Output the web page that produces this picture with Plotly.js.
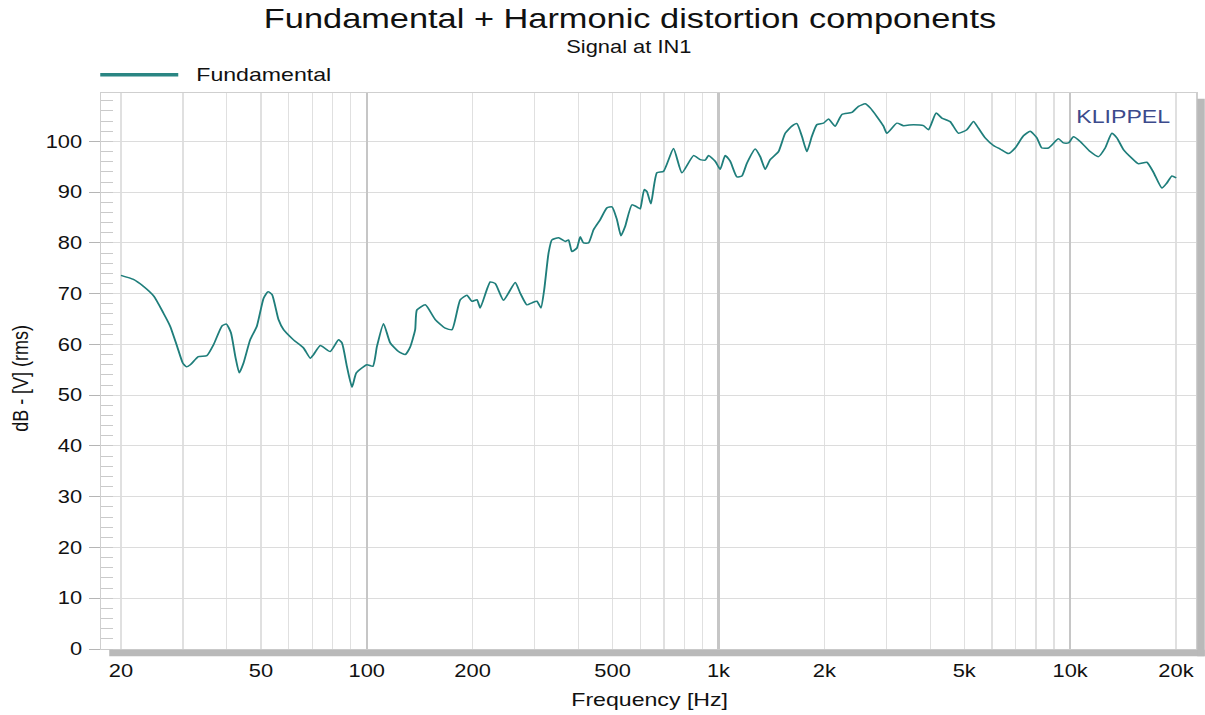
<!DOCTYPE html>
<html>
<head>
<meta charset="utf-8">
<script src="https://cdn.plot.ly/plotly-3.0.1.min.js"></script>
<style>
html,body{margin:0;padding:0;overflow:hidden;background:#ffffff;}
#chart{width:964px;height:715px;transform:scaleX(1.25);transform-origin:0 0;}
</style>
</head>
<body>
<div id="chart"></div>
<script>
// ---- data ----
const freqHz = [20.0,21.7,23.2,24.8,26.4,27.6,28.9,30.0,30.7,31.5,33.2,35.1,36.7,38.8,39.9,41.1,42.3,43.4,44.6,46.6,48.7,50.9,52.4,53.8,56.1,58.0,61.9,66.1,69.1,70.6,73.8,78.7,83.1,85.0,87.8,90.8,93.4,100.1,104.1,106.9,111.6,116.6,123.1,128.6,132.9,137.3,138.9,146.7,156.6,167.2,174.7,184.4,192.7,199.1,205.8,210.2,224.4,231.9,244.9,264.4,273.2,285.4,294.9,304.7,312.8,319.6,328.8,336.2,351.1,366.8,374.8,383.2,396.0,404.6,413.4,427.2,441.5,461.3,481.9,498.0,514.5,528.2,543.2,567.6,592.7,599.3,615.2,626.2,642.7,668.5,698.0,745.3,787.4,849.5,887.7,917.3,937.3,979.1,1011.7,1045.3,1080.1,1128.6,1166.2,1205.0,1272.2,1314.6,1358.3,1403.6,1482.0,1548.4,1617.9,1671.7,1727.3,1784.9,1844.2,1905.6,1989.8,2056.0,2148.2,2244.5,2396.3,2502.1,2614.3,2701.3,2822.4,2947.1,3013.4,3217.3,3359.4,3586.6,3829.3,3956.6,4160.2,4318.4,4560.3,4815.0,5087.2,5312.0,5488.7,5734.8,6055.1,6326.6,6680.0,6979.5,7369.3,7700.0,8045.4,8313.1,8680.4,9267.5,9575.9,9894.0,10223,10682,11403,12039,12580,13144,13582,14182,14985,15647,16532,17262,18238,18845,19473,20026];
const fundamentalDb = [73.6,72.8,71.4,69.5,66.2,63.6,59.6,56.3,55.6,56.0,57.6,57.8,60.0,63.7,64.0,62.3,57.6,54.4,56.3,60.9,63.6,69.1,70.4,69.8,64.9,62.9,60.9,59.3,57.3,58.0,59.8,58.6,60.9,60.3,55.7,51.6,54.4,56.0,55.7,59.6,64.1,60.3,58.6,58.0,59.5,62.9,66.8,67.8,64.9,63.2,62.9,68.8,69.7,68.5,68.8,67.2,72.3,72.0,68.7,72.2,70.1,67.8,68.2,68.5,67.2,70.8,78.0,80.6,81.0,80.3,80.6,78.3,79.0,81.2,80.0,80.0,82.6,84.6,86.9,87.1,84.6,81.4,83.3,87.5,86.9,86.7,90.5,90.1,87.7,93.8,94.1,98.6,93.8,97.2,96.4,96.3,97.2,96.1,94.5,97.2,96.1,93.0,93.2,95.7,98.5,97.0,94.5,96.4,98.0,101.6,103.0,103.5,101.0,98.0,101.0,103.3,103.6,104.4,103.0,105.3,105.7,106.9,107.4,106.6,104.9,103.0,101.6,103.6,103.1,103.3,103.1,102.3,105.6,104.6,103.9,101.6,102.3,103.9,102.6,100.7,99.2,98.5,97.6,98.7,101.1,102.0,100.7,98.7,98.7,100.5,99.7,99.7,100.9,100.0,98.0,97.0,98.7,101.6,100.7,98.4,96.7,95.6,95.9,93.9,90.8,91.8,93.2,92.8];
const xTickVals = [20,50,100,200,500,1000,2000,5000,10000,20000];
const xTickText = ['20','50','100','200','500','1k','2k','5k','10k','20k'];
const xMinorVals = [30,40,60,70,80,90,300,400,600,700,800,900,3000,4000,6000,7000,8000,9000];
const xDecadeVals = [100,1000,10000];
const yTickVals = [0,10,20,30,40,50,60,70,80,90,100];
const seriesName = 'Fundamental';

// ---- geometry (page is stretched horizontally by S, like the reference) ----
const S = 1.25;
const W = 1205 / S, H = 715;
const PX_L = 101, PX_R = 1196, PY_T = 93.3, PY_B = 649.3;
const px = v => (v - PX_L) / (PX_R - PX_L);   // original page px -> paper x
const py = v => (PY_B - v) / (PY_B - PY_T);   // original page px -> paper y
const xRange = [Math.log10(20) - (120.7 - PX_L) / 351.7, Math.log10(20000) + (PX_R - 1175.7) / 351.7];
const yRange = [0, (PY_B - PY_T) / 5.076];

const FONT = '"Liberation Sans", Arial, Helvetica, sans-serif';
const TEAL = '#1f7e7b';
const GRID = '#dcdcdc';
const VGRID = '#e0e0e0';
const SHADOW = '#b9b9b9';

const traces = [
  {type:'scatter', mode:'lines', x:freqHz, y:fundamentalDb, name:seriesName,
   line:{color:TEAL, width:1.5, shape:'spline', smoothing:0.5}, showlegend:false, hoverinfo:'x+y'},
  {type:'scatter', mode:'lines', x:[], y:[], xaxis:'x2', showlegend:false, hoverinfo:'skip'}
];

const layout = {
  width: W, height: H,
  paper_bgcolor:'#ffffff', plot_bgcolor:'#ffffff',
  margin:{l:PX_L / S, r:(1205 - PX_R) / S, t:PY_T, b:H - PY_B, pad:0},
  font:{family:FONT, color:'#111111', size:17.5},
  showlegend:false,
  title:{text:'Fundamental + Harmonic distortion components', font:{family:FONT, size:27.5, color:'#111111'},
         xref:'container', yref:'container', x:630/1205, y:1 - 18/715, xanchor:'center', yanchor:'middle'},
  xaxis:{type:'log', range:xRange, tickmode:'array', tickvals:xTickVals, ticktext:xTickText,
         ticks:'', showgrid:true, gridcolor:VGRID, gridwidth:1,
         showline:true, linecolor:'#cfcfcf', linewidth:1, mirror:true, zeroline:false,
         tickfont:{family:FONT, size:17.5, color:'#111111'}, ticklabelstandoff:6,
         minor:{tickmode:'array', tickvals:xMinorVals, showgrid:true, gridcolor:VGRID, gridwidth:1, ticks:''}},
  xaxis2:{type:'log', range:xRange, overlaying:'x', anchor:'y', side:'bottom', tickmode:'array', tickvals:xDecadeVals,
          showticklabels:false, ticks:'', showgrid:true, gridcolor:'#c6c6c6', gridwidth:2, showline:false, zeroline:false},
  yaxis:{range:yRange, tickmode:'array', tickvals:yTickVals, ticks:'outside', ticklen:8.8, tickcolor:'#b5b5b5', tickwidth:1,
         showgrid:true, gridcolor:GRID, gridwidth:1, showline:true, linecolor:'#cfcfcf', mirror:true, zeroline:false,
         tickfont:{family:FONT, size:17.5, color:'#111111'}, ticklabelstandoff:2,
         minor:{dtick:2, tick0:0, ticks:'inside', ticklen:9.6, tickcolor:'#cacaca', tickwidth:1, showgrid:false}},
  shapes:[
    {type:'rect', xref:'paper', yref:'paper', layer:'above', x0:px(109), x1:px(1204.5), y0:py(656.5), y1:py(650), fillcolor:SHADOW, line:{width:0}},
    {type:'rect', xref:'paper', yref:'paper', layer:'above', x0:px(1197), x1:px(1204.5), y0:py(656.5), y1:py(99), fillcolor:SHADOW, line:{width:0}},
    {type:'line', xref:'paper', yref:'paper', x0:px(100), x1:px(178), y0:py(75), y1:py(75), line:{color:'#2a8683', width:3.5}}
  ],
  annotations:[
    {text:'Signal at IN1', xref:'paper', yref:'paper', x:px(629), y:py(47), xanchor:'center', yanchor:'middle', showarrow:false,
     font:{family:FONT, size:17.5, color:'#111111'}},
    {text:seriesName, xref:'paper', yref:'paper', x:px(194), y:py(75), xanchor:'left', yanchor:'middle', showarrow:false,
     font:{family:FONT, size:18.5, color:'#111111'}},
    {text:'KLIPPEL', xref:'paper', yref:'paper', x:px(1123), y:py(117), xanchor:'center', yanchor:'middle', showarrow:false,
     font:{family:FONT, size:18.5, color:'#3c4a8c'}},
    {text:'Frequency [Hz]', xref:'paper', yref:'paper', x:px(649), y:py(700), xanchor:'center', yanchor:'middle', showarrow:false,
     font:{family:FONT, size:18.5, color:'#111111'}},
    {text:'dB - [V] (rms)', xref:'paper', yref:'paper', x:px(20), y:py(379), xanchor:'center', yanchor:'middle', textangle:-90, showarrow:false,
     font:{family:FONT, size:18, color:'#111111'}}
  ]
};

Plotly.newPlot('chart', traces, layout, {displayModeBar:false, staticPlot:true});
</script>
</body>
</html>
